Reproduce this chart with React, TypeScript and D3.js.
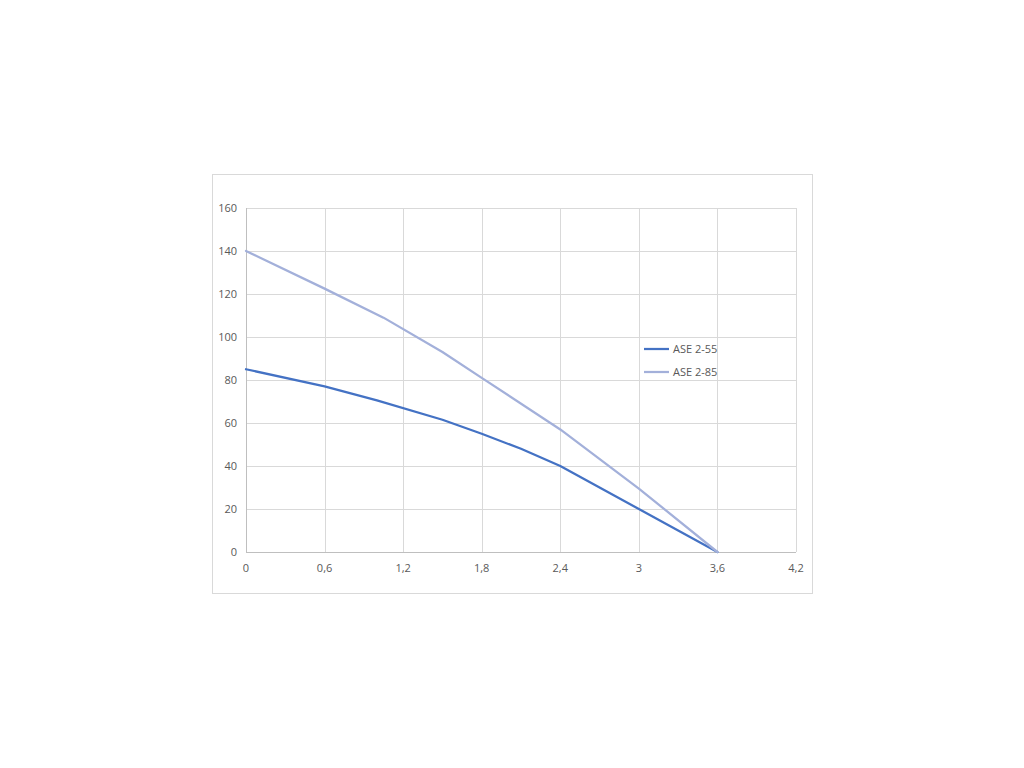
import React from 'react'
import { scaleLinear, line } from 'd3'

type Pt = { x: number; y: number }

// flow values (x) and head values (y)
const ase255X = [0, 0.6, 1.0, 1.5, 1.8, 2.1, 2.4, 3.0, 3.6]
const ase255Y = [85, 77, 70.5, 61.5, 55, 48, 40, 20, 0]
const ase285X = [0, 0.6, 1.05, 1.5, 1.8, 2.4, 3.0, 3.6]
const ase285Y = [140, 122.5, 109, 93, 81, 57, 29.5, 0]

const xTicks = [0, 0.6, 1.2, 1.8, 2.4, 3, 3.6, 4.2]
const yTicks = [0, 20, 40, 60, 80, 100, 120, 140, 160]

const seriesNames = ['ASE 2-55', 'ASE 2-85']
const seriesColors = ['#4472C4', '#A3B0DA']

const FONT = '"Open Sans", "Noto Sans", sans-serif'

export default function App(): JSX.Element {
  const left = 246
  const right = 796
  const top = 208
  const bottom = 552

  const x = scaleLinear().domain([0, 4.2]).range([left, right])
  const y = scaleLinear().domain([0, 160]).range([bottom, top])

  const lineFn = line<Pt>()
    .x((d) => x(d.x))
    .y((d) => y(d.y))

  const series: Pt[][] = [
    ase255X.map((v, i) => ({ x: v, y: ase255Y[i] })),
    ase285X.map((v, i) => ({ x: v, y: ase285Y[i] })),
  ]

  const fmt = (v: number) => String(v).replace('.', ',')

  return (
    <svg
      width={1024}
      height={768}
      style={{ position: 'absolute', left: 0, top: 0, background: '#fff' }}
      xmlns="http://www.w3.org/2000/svg"
    >
      <rect x={212.5} y={174.5} width={600} height={419} fill="#fff" stroke="#d9d9d9" />

      <g className="grid">
        {yTicks.map((t) => (
          <line key={'gy' + t} x1={left} x2={right} y1={Math.round(y(t)) + 0.5} y2={Math.round(y(t)) + 0.5} stroke="#d9d9d9" />
        ))}
        {xTicks.map((t) => (
          <line key={'gx' + t} x1={Math.round(x(t)) + 0.5} x2={Math.round(x(t)) + 0.5} y1={top} y2={bottom} stroke="#d9d9d9" />
        ))}
        <line x1={left} x2={right} y1={bottom + 0.5} y2={bottom + 0.5} stroke="#bfbfbf" />
        <line x1={left + 0.5} x2={left + 0.5} y1={top} y2={bottom} stroke="#bfbfbf" />
      </g>

      <g className="y-labels" fontFamily={FONT} fontSize={11} fill="#595959">
        {yTicks.map((t) => (
          <text key={'ly' + t} x={237} y={y(t)} dy="0.35em" textAnchor="end">
            {t}
          </text>
        ))}
      </g>
      <g className="x-labels" fontFamily={FONT} fontSize={11} fill="#595959">
        {xTicks.map((t) => (
          <text key={'lx' + t} x={x(t)} y={568} dy="0.35em" textAnchor="middle">
            {fmt(t)}
          </text>
        ))}
      </g>

      <g className="lines">
        {series.map((s, i) => (
          <path
            key={seriesNames[i]}
            d={lineFn(s) || ''}
            fill="none"
            stroke={seriesColors[i]}
            strokeWidth={2.25}
            strokeLinejoin="round"
            strokeLinecap="round"
          />
        ))}
      </g>

      <g className="legend" fontFamily={FONT} fontSize={11} fill="#595959">
        {seriesNames.map((n, i) => (
          <g key={n} transform={`translate(644, ${349 + i * 23})`}>
            <line x1={0} x2={25} y1={0} y2={0} stroke={seriesColors[i]} strokeWidth={2.25} />
            <text x={29} y={0} dy="0.35em">
              {n}
            </text>
          </g>
        ))}
      </g>
    </svg>
  )
}
